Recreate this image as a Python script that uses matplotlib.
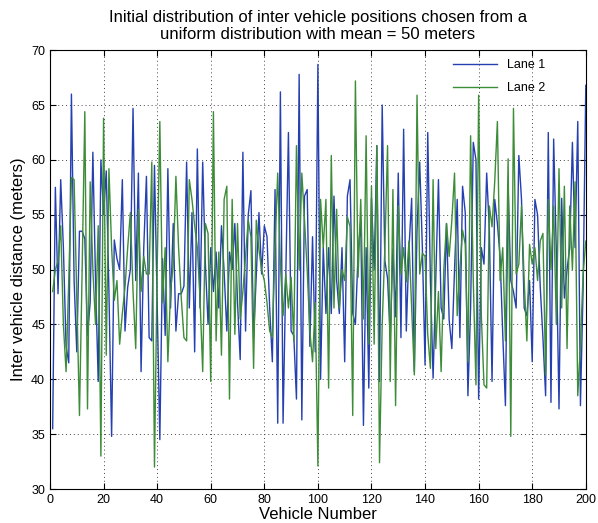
import numpy as np
import matplotlib
matplotlib.use("Agg")
import matplotlib.pyplot as plt

plt.rcParams['font.family'] = ['Liberation Sans', 'DejaVu Sans']

# inter vehicle distance (meters), vehicles 1..200
lane1 = [35.5, 57.5, 47.8, 58.2, 52.0, 43.0, 41.5, 66.0, 49.0, 42.5,
         53.5, 53.5, 52.8, 44.0, 47.0, 60.7, 49.0, 39.8, 60.0, 55.0,
         59.0, 48.0, 34.8, 52.7, 51.0, 50.0, 58.2, 44.4, 48.4, 50.0,
         64.7, 49.0, 58.8, 40.7, 52.0, 58.5, 43.8, 43.5, 59.5, 47.0,
         34.5, 51.0, 44.0, 59.2, 46.5, 54.2, 44.4, 47.8, 47.8, 48.5,
         59.8, 46.5, 55.2, 42.5, 61.0, 46.5, 59.8, 50.5, 45.0, 52.0,
         48.0, 51.6, 46.5, 54.0, 49.8, 44.4, 51.6, 50.0, 54.2, 47.0,
         41.8, 60.7, 44.4, 55.0, 57.2, 43.8, 49.6, 55.2, 49.6, 54.0,
         53.0, 46.5, 41.6, 57.3, 36.0, 66.2, 36.0, 49.0, 62.5, 44.4,
         44.0, 38.2, 67.8, 36.3, 56.7, 57.3, 43.0, 53.0, 42.5, 68.7,
         40.0, 52.0, 46.0, 52.0, 46.0, 56.7, 49.0, 46.0, 52.0, 41.6,
         56.7, 58.2, 46.0, 45.0, 51.5, 54.5, 35.8, 52.0, 39.2, 56.5,
         50.0, 61.3, 39.8, 65.0, 50.8, 49.2, 43.8, 51.9, 45.7, 58.8,
         43.8, 62.8, 44.4, 51.9, 56.5, 40.7, 53.6, 59.8, 51.9, 41.3,
         62.5, 49.0, 40.1, 49.0, 58.2, 46.5, 45.5, 54.2, 45.4, 42.8,
         50.0, 56.4, 43.8, 57.6, 55.2, 38.5, 46.5, 61.6, 60.0, 38.2,
         52.0, 50.5, 58.8, 53.6, 39.8, 56.4, 54.2, 51.2, 44.1, 37.6,
         57.6, 49.0, 48.0, 46.5, 60.4, 56.4, 46.5, 45.8, 49.0, 41.6,
         56.4, 55.0, 48.4, 43.8, 38.5, 62.5, 37.9, 61.9, 51.6, 37.3,
         56.5, 47.4, 50.0, 52.0, 61.6, 52.0, 63.5, 37.6, 48.4, 66.8]

lane2 = [48.0, 50.0, 50.8, 54.0, 45.0, 40.7, 49.0, 58.4, 58.2, 47.3,
         36.7, 50.0, 64.4, 37.3, 58.0, 50.0, 45.0, 54.0, 33.0, 63.8,
         42.2, 59.2, 52.0, 47.2, 49.0, 43.2, 46.0, 48.4, 52.0, 55.2,
         48.0, 42.8, 55.5, 48.0, 51.2, 49.6, 49.6, 59.8, 32.0, 50.0,
         63.5, 47.0, 52.0, 41.6, 48.0, 50.5, 58.5, 52.0, 47.4, 43.8,
         43.5, 58.2, 56.4, 54.0, 52.0, 47.4, 40.7, 54.2, 53.3, 39.8,
         64.4, 43.5, 51.6, 42.2, 56.4, 57.6, 38.2, 56.4, 44.1, 54.2,
         45.5, 48.0, 51.2, 54.5, 53.0, 41.0, 54.5, 51.8, 50.0, 49.0,
         47.0, 44.4, 43.8, 52.0, 58.8, 50.5, 45.8, 49.6, 46.5, 49.3,
         43.5, 61.3, 50.0, 58.8, 54.5, 50.0, 44.4, 41.6, 47.0, 32.1,
         56.4, 52.0, 56.4, 39.2, 60.4, 46.5, 55.5, 46.5, 50.0, 49.0,
         54.8, 53.9, 36.7, 67.2, 49.3, 56.4, 45.5, 62.2, 43.2, 57.6,
         43.2, 61.3, 32.4, 45.0, 52.0, 61.3, 39.8, 57.3, 37.6, 55.8,
         49.6, 52.0, 48.9, 52.6, 46.5, 40.4, 65.9, 49.6, 51.5, 51.2,
         44.1, 41.0, 58.2, 42.8, 48.0, 40.7, 50.0, 54.2, 51.2, 54.5,
         58.8, 45.8, 50.0, 53.6, 52.3, 41.6, 62.2, 49.0, 39.5, 65.9,
         45.8, 39.5, 39.2, 55.8, 53.9, 58.0, 63.5, 49.0, 52.0, 43.5,
         60.1, 34.8, 64.7, 49.6, 50.5, 55.8, 49.0, 43.5, 52.3, 50.5,
         52.0, 49.0, 52.6, 53.3, 40.4, 56.4, 50.0, 55.8, 45.0, 59.2,
         46.5, 57.6, 42.8, 55.8, 50.0, 58.0, 38.5, 43.2, 49.6, 52.6]

vehicles = np.arange(1, len(lane1) + 1)

fig = plt.figure(figsize=(5.98, 5.23), dpi=100)
ax = fig.add_axes([0.0836, 0.065, 0.896, 0.839])

ax.plot(vehicles, lane1, color='#2540b0', linewidth=1.0, label='Lane 1')
ax.plot(vehicles, lane2, color='#3d8c38', linewidth=1.0, label='Lane 2')

ax.set_xlim(0, 200)
ax.set_ylim(30, 70)
ax.set_xticks(np.arange(0, 201, 20))
ax.set_yticks(np.arange(30, 71, 5))
ax.tick_params(direction='in', top=True, right=True, labelsize=9, length=4)
ax.grid(True, linestyle=(0, (1, 3)), color='#444444', linewidth=0.7)

ax.set_xlabel('Vehicle Number', fontsize=12, labelpad=1)
ax.set_ylabel('Inter vehicle distance (meters)', fontsize=12, labelpad=4)
ax.set_title('Initial distribution of inter vehicle positions chosen from a\n'
             'uniform distribution with mean = 50 meters', fontsize=12, pad=8)

ax.legend(loc='upper right', bbox_to_anchor=(0.94, 1.0), frameon=False,
          fontsize=9, handlelength=3.5, borderaxespad=0.3, labelspacing=0.9)

fig.savefig('out.png', dpi=100)
